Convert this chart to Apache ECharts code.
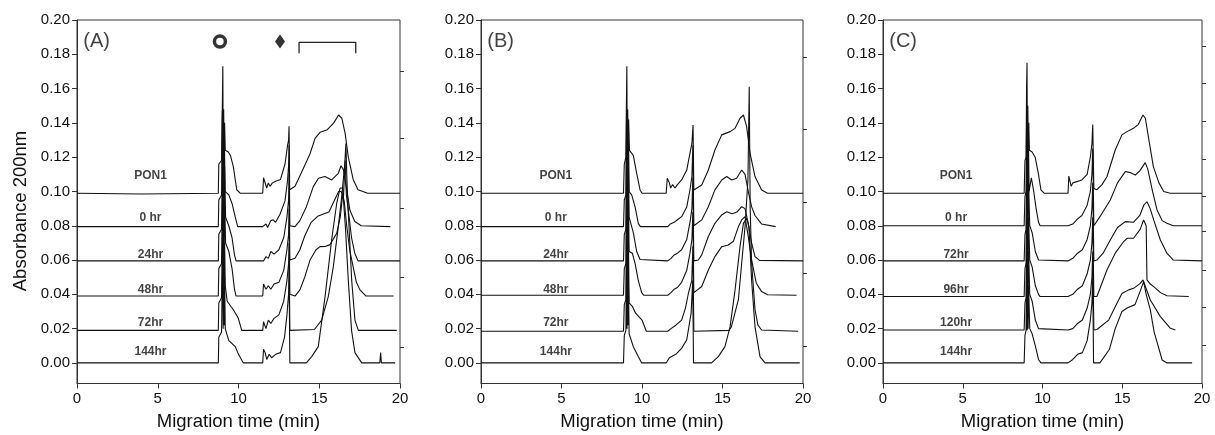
<!DOCTYPE html>
<html>
<head>
<meta charset="UTF-8">
<title>PON1 electropherograms</title>
<style>
  html, body { margin: 0; padding: 0; background: #fff; }
  #chart { width: 1215px; height: 435px; }
</style>
<script src="https://cdn.jsdelivr.net/npm/echarts@6/dist/echarts.min.js"></script>
</head>
<body>
<div id="chart"></div>
<script>
// traces: [migration time (min), absorbance], already stacked
var namesAB = ['PON1', '0 hr', '24hr', '48hr', '72hr', '144hr'];
var namesC = ['PON1', '0 hr', '72hr', '96hr', '120hr', '144hr'];
var panelLetters = ['(A)', '(B)', '(C)'];
var labelAbs = [0.109, 0.0845, 0.063, 0.043, 0.0235, 0.0066];
var yTicks = [0, 0.02, 0.04, 0.06, 0.08, 0.10, 0.12, 0.14, 0.16, 0.18, 0.20];
var rightTicksA = [0.0093, 0.050, 0.0904, 0.131, 0.170];
var rightTicksB = [0.0099, 0.0525, 0.094, 0.136, 0.178];
var rightTicksC = [0.0105, 0.0325, 0.0542, 0.0766, 0.0974, 0.1188, 0.1407, 0.1631, 0.1844];

// panel A annotations
var circleMark = [[8.85, 0.1874]];
var diamondMark = [[12.57, 0.1874]];
var bracketMark = [[13.75, 0.1806], [13.75, 0.187], [17.26, 0.187], [17.26, 0.1806]];

// ---- panel A ----
var a_pon1 = [[0,0.099],[4,0.0985],[8.75,0.099],[8.78,0.116],[8.95,0.118],[9.0,0.15],[9.03,0.173],[9.05,0.125],[9.08,0.148],[9.11,0.127],[9.14,0.14],[9.18,0.124],[9.37,0.123],[9.5,0.121],[9.68,0.1145],[9.89,0.101],[10.1,0.099],[11.5,0.099],[11.55,0.108],[11.65,0.107],[11.75,0.102],[11.85,0.105],[11.95,0.103],[12.1,0.105],[12.3,0.106],[12.6,0.107],[12.88,0.116],[13.04,0.127],[13.1,0.130],[13.13,0.138],[13.17,0.101],[13.5,0.103],[13.9,0.111],[14.43,0.122],[14.74,0.131],[15.05,0.1345],[15.5,0.136],[15.9,0.14],[16.2,0.1446],[16.4,0.1427],[16.6,0.134],[16.8,0.12],[17.1,0.107],[17.4,0.101],[18,0.099],[20,0.099]];
var a_0hr = [[0,0.0795],[8.75,0.0795],[8.78,0.095],[8.95,0.098],[9.0,0.147],[9.03,0.1],[9.06,0.142],[9.09,0.102],[9.12,0.135],[9.17,0.1],[9.4,0.098],[9.6,0.093],[9.8,0.085],[9.95,0.0795],[11.5,0.0795],[11.7,0.081],[11.8,0.079],[12.0,0.083],[12.15,0.0835],[12.3,0.082],[12.57,0.0867],[12.88,0.0945],[13.04,0.1067],[13.1,0.115],[13.13,0.127],[13.18,0.08],[13.5,0.0795],[13.8,0.083],[14.2,0.091],[14.63,0.1028],[14.95,0.1077],[15.35,0.1087],[15.77,0.1067],[16.18,0.1106],[16.35,0.115],[16.5,0.1126],[16.7,0.101],[16.9,0.089],[17.2,0.0825],[17.6,0.08],[19.4,0.0795]];
var a_24hr = [[0,0.0595],[8.75,0.0595],[8.78,0.075],[8.95,0.078],[9.02,0.125],[9.05,0.08],[9.08,0.122],[9.11,0.082],[9.14,0.115],[9.2,0.085],[9.4,0.08],[9.6,0.073],[9.75,0.063],[9.85,0.0595],[11.55,0.0595],[11.7,0.062],[11.85,0.061],[12.0,0.065],[12.2,0.0635],[12.5,0.066],[12.8,0.073],[13.0,0.085],[13.1,0.095],[13.13,0.11],[13.18,0.06],[13.5,0.061],[13.8,0.066],[14.1,0.074],[14.5,0.082],[14.9,0.0855],[15.3,0.087],[15.6,0.088],[15.9,0.094],[16.2,0.1],[16.35,0.1],[16.5,0.097],[16.6,0.118],[16.68,0.098],[16.85,0.085],[17.0,0.073],[17.2,0.064],[17.4,0.0595],[20,0.0595]];
var a_48hr = [[0,0.039],[8.75,0.039],[8.78,0.055],[8.95,0.058],[9.02,0.105],[9.05,0.06],[9.08,0.1],[9.11,0.062],[9.14,0.095],[9.2,0.07],[9.4,0.065],[9.6,0.055],[9.75,0.043],[9.85,0.039],[11.5,0.039],[11.55,0.046],[11.7,0.043],[11.85,0.045],[12.0,0.043],[12.2,0.046],[12.5,0.047],[12.8,0.054],[13.0,0.066],[13.1,0.075],[13.13,0.09],[13.18,0.04],[13.5,0.039],[13.8,0.0426],[14.1,0.05],[14.43,0.06],[14.8,0.066],[15.05,0.0678],[15.4,0.068],[15.67,0.069],[16.08,0.0756],[16.3,0.085],[16.45,0.098],[16.55,0.094],[16.7,0.08],[16.9,0.065],[17.1,0.056],[17.3,0.047],[17.52,0.0426],[17.9,0.039],[19.6,0.039]];
var a_72hr = [[0,0.019],[8.75,0.019],[8.78,0.035],[8.95,0.038],[9.02,0.085],[9.05,0.04],[9.08,0.08],[9.11,0.045],[9.14,0.07],[9.18,0.045],[9.3,0.036],[9.68,0.031],[9.99,0.026],[10.2,0.019],[11.5,0.019],[11.55,0.024],[11.7,0.02],[11.85,0.025],[12.0,0.023],[12.2,0.026],[12.5,0.028],[12.8,0.036],[13.0,0.048],[13.1,0.058],[13.13,0.07],[13.18,0.019],[14.7,0.0195],[15.15,0.025],[15.56,0.0387],[15.87,0.056],[16.18,0.0795],[16.39,0.097],[16.58,0.116],[16.65,0.128],[16.72,0.105],[16.8,0.0873],[17.01,0.048],[17.21,0.025],[17.42,0.019],[19.8,0.019]];
var a_144hr = [[0,0.0],[8.75,0.0],[8.78,0.015],[8.95,0.018],[9.02,0.065],[9.05,0.02],[9.08,0.06],[9.11,0.022],[9.14,0.05],[9.18,0.02],[9.4,0.013],[9.8,0.0095],[10.0,0.005],[10.3,0.0],[11.5,0.0],[11.55,0.008],[11.65,0.006],[11.75,0.002],[11.9,0.005],[12.05,0.003],[12.3,0.005],[12.6,0.006],[12.85,0.015],[13.0,0.028],[13.1,0.04],[13.13,0.055],[13.18,0.0],[14.2,0.0],[14.53,0.0037],[14.94,0.0095],[15.36,0.0387],[15.77,0.072],[16.08,0.093],[16.29,0.102],[16.45,0.102],[16.63,0.0776],[16.8,0.048],[17.0,0.019],[17.21,0.006],[17.63,0.0],[18.75,0.0],[18.8,0.006],[18.85,0.0],[19.7,0.0]];

// ---- panel B ----
var b_pon1 = [[0,0.099],[8.85,0.099],[8.9,0.116],[9.0,0.12],[9.03,0.15],[9.06,0.173],[9.08,0.128],[9.11,0.148],[9.14,0.13],[9.17,0.142],[9.22,0.124],[9.46,0.121],[9.67,0.1106],[9.88,0.1009],[10.0,0.099],[11.5,0.099],[11.57,0.1077],[11.7,0.105],[11.78,0.102],[11.9,0.104],[12.05,0.102],[12.2,0.104],[12.46,0.1067],[12.78,0.1125],[12.98,0.1223],[13.1,0.128],[13.17,0.1388],[13.22,0.1009],[13.71,0.1038],[14.12,0.1125],[14.53,0.1242],[14.95,0.133],[15.47,0.1349],[15.78,0.1368],[16.09,0.1427],[16.3,0.1446],[16.5,0.1378],[16.71,0.1223],[17.02,0.1087],[17.43,0.1009],[17.8,0.099],[20,0.099]];
var b_0hr = [[0,0.0795],[8.85,0.0795],[8.9,0.095],[9.0,0.098],[9.04,0.147],[9.07,0.1],[9.1,0.143],[9.13,0.102],[9.16,0.135],[9.2,0.1],[9.36,0.098],[9.57,0.091],[9.77,0.0814],[9.9,0.0795],[11.6,0.0795],[11.75,0.081],[12.0,0.082],[12.2,0.0835],[12.46,0.0853],[12.78,0.091],[12.98,0.101],[13.1,0.1087],[13.16,0.127],[13.22,0.08],[13.71,0.0834],[14.12,0.0911],[14.53,0.1009],[14.95,0.1067],[15.26,0.1087],[15.57,0.1067],[15.88,0.1077],[16.19,0.1125],[16.4,0.11],[16.6,0.1],[16.81,0.091],[17.02,0.086],[17.43,0.081],[18.3,0.0795]];
var b_24hr = [[0,0.0595],[8.85,0.0595],[8.9,0.075],[9.0,0.078],[9.04,0.125],[9.07,0.08],[9.1,0.122],[9.13,0.082],[9.16,0.115],[9.2,0.085],[9.46,0.076],[9.67,0.065],[9.88,0.0603],[10.0,0.0595],[11.6,0.0595],[11.8,0.061],[12.0,0.063],[12.2,0.064],[12.46,0.066],[12.78,0.072],[12.98,0.082],[13.1,0.09],[13.16,0.108],[13.22,0.0595],[13.5,0.06],[13.71,0.063],[14.12,0.0737],[14.53,0.0814],[14.95,0.0863],[15.26,0.0882],[15.6,0.087],[15.9,0.088],[16.19,0.0911],[16.4,0.09],[16.6,0.0814],[16.81,0.0698],[17.02,0.062],[17.3,0.0598],[20,0.0595]];
var b_48hr = [[0,0.0395],[8.85,0.0395],[8.9,0.055],[9.0,0.058],[9.04,0.105],[9.07,0.06],[9.1,0.1],[9.13,0.062],[9.16,0.095],[9.2,0.065],[9.4,0.064],[9.57,0.058],[9.77,0.048],[9.98,0.041],[10.1,0.0395],[11.6,0.0395],[11.8,0.041],[12.0,0.043],[12.2,0.044],[12.46,0.047],[12.78,0.054],[12.98,0.064],[13.1,0.072],[13.16,0.088],[13.22,0.041],[13.71,0.0446],[14.12,0.0542],[14.53,0.062],[14.95,0.0678],[15.36,0.0688],[15.68,0.071],[15.99,0.0795],[16.19,0.0834],[16.4,0.0853],[16.6,0.0737],[16.81,0.06],[17.1,0.0465],[17.43,0.0416],[17.8,0.0398],[19.6,0.0395]];
var b_72hr = [[0,0.0185],[8.85,0.0185],[8.9,0.034],[9.0,0.037],[9.04,0.085],[9.07,0.04],[9.1,0.08],[9.13,0.042],[9.16,0.07],[9.2,0.035],[9.4,0.033],[9.6,0.029],[9.8,0.027],[10.0,0.025],[10.27,0.0185],[11.6,0.0185],[11.8,0.02],[12.1,0.022],[12.46,0.025],[12.7,0.032],[12.88,0.0405],[13.09,0.048],[13.16,0.068],[13.22,0.0185],[15.4,0.019],[15.55,0.021],[15.99,0.037],[16.19,0.058],[16.4,0.0795],[16.58,0.1067],[16.66,0.161],[16.72,0.09],[16.81,0.058],[17.02,0.031],[17.2,0.022],[17.43,0.0192],[19.7,0.0185]];
var b_144hr = [[0,0.0],[8.85,0.0],[8.9,0.016],[9.0,0.019],[9.04,0.06],[9.07,0.02],[9.1,0.055],[9.13,0.022],[9.16,0.045],[9.2,0.017],[9.46,0.0095],[9.77,0.0037],[9.98,0.0],[11.5,0.0],[11.7,0.003],[11.9,0.004],[12.1,0.005],[12.46,0.0085],[12.78,0.0135],[13.05,0.029],[13.15,0.048],[13.2,0.0],[14.32,0.0],[14.74,0.0037],[15.15,0.0095],[15.47,0.021],[15.78,0.0426],[16.09,0.068],[16.3,0.0814],[16.5,0.0843],[16.64,0.0795],[16.81,0.048],[17.02,0.021],[17.33,0.0037],[17.64,0.0],[19.8,0.0]];

// ---- panel C ----
var c_pon1 = [[0,0.099],[8.85,0.099],[8.9,0.118],[8.97,0.12],[9.0,0.16],[9.03,0.175],[9.05,0.13],[9.08,0.15],[9.11,0.128],[9.14,0.14],[9.18,0.124],[9.35,0.123],[9.54,0.12],[9.75,0.11],[9.9,0.1009],[10.1,0.099],[11.6,0.099],[11.65,0.109],[11.8,0.103],[11.9,0.105],[12.0,0.104],[12.47,0.1067],[12.8,0.11],[13.0,0.12],[13.1,0.128],[13.15,0.139],[13.22,0.1017],[13.4,0.101],[13.73,0.104],[14.04,0.1086],[14.56,0.1242],[14.98,0.133],[15.3,0.1349],[15.7,0.1368],[16.0,0.139],[16.3,0.1446],[16.45,0.1427],[16.6,0.134],[16.95,0.1145],[17.3,0.105],[17.6,0.1],[18.0,0.099],[20,0.099]];
var c_0hr = [[0,0.08],[8.85,0.08],[8.9,0.097],[8.97,0.1],[9.0,0.14],[9.03,0.098],[9.06,0.137],[9.09,0.1],[9.12,0.13],[9.16,0.1],[9.3,0.108],[9.45,0.1],[9.6,0.09],[9.75,0.082],[9.85,0.08],[11.6,0.08],[11.9,0.081],[12.2,0.084],[12.47,0.086],[12.8,0.092],[13.0,0.1],[13.1,0.11],[13.15,0.125],[13.22,0.08],[13.6,0.0853],[14.25,0.095],[14.7,0.105],[15.19,0.1116],[15.5,0.111],[15.82,0.1096],[16.1,0.112],[16.44,0.1168],[16.6,0.113],[16.9,0.1],[17.18,0.0892],[17.5,0.083],[17.8,0.0815],[18.2,0.08],[20,0.08]];
var c_72hr = [[0,0.0595],[8.85,0.0595],[8.9,0.075],[8.97,0.078],[9.01,0.12],[9.04,0.078],[9.07,0.115],[9.1,0.08],[9.13,0.105],[9.2,0.08],[9.35,0.076],[9.55,0.065],[9.75,0.06],[11.6,0.0595],[11.9,0.061],[12.2,0.064],[12.5,0.066],[12.8,0.072],[13.0,0.08],[13.1,0.09],[13.15,0.105],[13.22,0.0595],[13.41,0.06],[13.8,0.064],[14.25,0.0717],[14.7,0.079],[15.19,0.0824],[15.7,0.082],[16.1,0.086],[16.35,0.092],[16.55,0.094],[16.75,0.09],[16.97,0.0834],[17.39,0.0717],[17.8,0.064],[18.2,0.06],[20,0.0595]];
var c_96hr = [[0,0.0387],[8.85,0.0387],[8.9,0.055],[8.97,0.058],[9.01,0.1],[9.04,0.058],[9.07,0.095],[9.1,0.06],[9.13,0.085],[9.2,0.06],[9.35,0.056],[9.55,0.045],[9.75,0.04],[9.85,0.0387],[11.6,0.0387],[11.9,0.04],[12.2,0.043],[12.5,0.045],[12.8,0.052],[13.0,0.06],[13.1,0.07],[13.15,0.085],[13.22,0.0387],[13.41,0.0387],[14.04,0.0542],[14.56,0.064],[15.09,0.0708],[15.3,0.0727],[15.71,0.0727],[16.13,0.078],[16.34,0.0834],[16.5,0.08],[16.55,0.0484],[16.76,0.046],[16.97,0.0445],[17.4,0.041],[17.8,0.0392],[19.17,0.0387]];
var c_120hr = [[0,0.0192],[8.85,0.0192],[8.9,0.035],[8.97,0.038],[9.01,0.08],[9.04,0.038],[9.07,0.075],[9.1,0.04],[9.13,0.065],[9.2,0.04],[9.35,0.036],[9.55,0.025],[9.75,0.02],[9.85,0.0192],[11.6,0.0192],[11.9,0.02],[12.2,0.023],[12.5,0.025],[12.8,0.032],[13.0,0.04],[13.1,0.05],[13.15,0.065],[13.22,0.0192],[13.41,0.0195],[14.15,0.025],[14.56,0.0327],[14.98,0.0405],[15.4,0.0426],[15.71,0.0435],[16.13,0.0464],[16.3,0.0484],[16.76,0.0367],[17.39,0.027],[18.02,0.0202],[18.33,0.0192]];
var c_144hr = [[0,0.0],[8.85,0.0],[8.9,0.016],[8.97,0.019],[9.01,0.06],[9.04,0.019],[9.07,0.055],[9.1,0.02],[9.13,0.045],[9.2,0.02],[9.35,0.017],[9.55,0.01],[9.75,0.002],[9.9,0.0],[11.6,0.0],[11.9,0.002],[12.2,0.005],[12.5,0.006],[12.8,0.013],[13.0,0.025],[13.1,0.035],[13.15,0.05],[13.2,0.0],[13.6,0.0],[14.2,0.008],[14.56,0.02],[14.98,0.03],[15.3,0.032],[15.8,0.034],[16.13,0.042],[16.34,0.0474],[16.5,0.04],[16.76,0.0309],[17.0,0.018],[17.2,0.0115],[17.5,0.0017],[17.81,0.0],[19.38,0.0]];

var FONT = '"Liberation Sans", Arial, sans-serif';
var INK = '#111';

var panels = [
  { left: 77, width: 323, names: namesAB, labelT: 4.55, rightTicks: rightTicksA,
    traces: [a_pon1, a_0hr, a_24hr, a_48hr, a_72hr, a_144hr] },
  { left: 481, width: 322, names: namesAB, labelT: 4.65, rightTicks: rightTicksB,
    traces: [b_pon1, b_0hr, b_24hr, b_48hr, b_72hr, b_144hr] },
  { left: 883, width: 319, names: namesC, labelT: 4.58, rightTicks: rightTicksC,
    traces: [c_pon1, c_0hr, c_72hr, c_96hr, c_120hr, c_144hr] }
];

var grids = [], xAxes = [], yAxes = [], series = [];

panels.forEach(function (p, i) {
  grids.push({
    left: p.left, top: 20, width: p.width, height: 363.5,
    show: true, borderColor: '#333', borderWidth: 1, backgroundColor: 'transparent',
    containLabel: false, outerBoundsMode: 'none'
  });
  xAxes.push({
    type: 'value', gridIndex: i, min: 0, max: 20, interval: 5,
    name: 'Migration time (min)', nameLocation: 'middle', nameGap: 29,
    nameTextStyle: { fontSize: 18.5, color: INK, fontFamily: FONT },
    axisLine: { show: true, onZero: false, lineStyle: { color: '#333', width: 1 } },
    axisTick: { show: true, length: 5, lineStyle: { color: '#333' } },
    axisLabel: { fontSize: 15, color: INK, fontFamily: FONT, margin: 8 },
    splitLine: { show: false }
  });
  yAxes.push({
    type: 'value', gridIndex: i, min: -0.012, max: 0.2,
    axisLine: { show: true, onZero: false, lineStyle: { color: '#333', width: 1 } },
    axisTick: { show: true, length: 5, customValues: yTicks, lineStyle: { color: '#333' } },
    axisLabel: {
      fontSize: 15, color: INK, fontFamily: FONT, margin: 7, customValues: yTicks,
      formatter: function (v) { return v.toFixed(2); }
    },
    splitLine: { show: false }
  });
  // unlabelled ticks on the right-hand frame
  yAxes.push({
    type: 'value', gridIndex: i, min: -0.012, max: 0.2, position: 'right',
    axisLine: { show: false, onZero: false },
    axisTick: { show: true, length: 4, customValues: p.rightTicks, lineStyle: { color: '#333' } },
    axisLabel: { show: false, customValues: p.rightTicks },
    splitLine: { show: false }
  });
  var yIdx = i * 2;

  p.traces.forEach(function (tr, k) {
    series.push({
      name: p.names[k], type: 'line', xAxisIndex: i, yAxisIndex: yIdx,
      data: tr, showSymbol: false, symbol: 'none', silent: true,
      lineStyle: { color: INK, width: 1.1 }
    });
  });

  // trace names, written just above each baseline
  series.push({
    type: 'scatter', xAxisIndex: i, yAxisIndex: yIdx, symbolSize: 1, silent: true,
    itemStyle: { color: 'rgba(0,0,0,0)' },
    data: p.names.map(function (n, k) { return [p.labelT, labelAbs[k], n]; }),
    label: {
      show: true, position: 'inside', fontSize: 12, fontWeight: 'bold', color: INK, fontFamily: FONT,
      formatter: function (d) { return d.data[2]; }
    }
  });

  // panel letter
  series.push({
    type: 'scatter', xAxisIndex: i, yAxisIndex: yIdx, symbolSize: 1, silent: true,
    itemStyle: { color: 'rgba(0,0,0,0)' },
    data: [[0.36, 0.1872, panelLetters[i]]],
    label: {
      show: true, position: 'right', distance: 0, fontSize: 20, color: INK, fontFamily: FONT,
      formatter: function (d) { return d.data[2]; }
    }
  });
});

// panel A peak markers
series.push({
  type: 'scatter', xAxisIndex: 0, yAxisIndex: 0, symbol: 'circle', symbolSize: 11, silent: true,
  itemStyle: { color: '#fff', borderColor: '#000', borderWidth: 3.5 },
  data: circleMark
});
series.push({
  type: 'scatter', xAxisIndex: 0, yAxisIndex: 0, symbol: 'diamond', symbolSize: [10, 14], silent: true,
  itemStyle: { color: '#000' },
  data: diamondMark
});
series.push({
  type: 'line', xAxisIndex: 0, yAxisIndex: 0, showSymbol: false, symbol: 'none', silent: true,
  lineStyle: { color: '#222', width: 1.3 },
  data: bracketMark
});

var chart = echarts.init(document.getElementById('chart'));
chart.setOption({
  animation: false,
  backgroundColor: '#fff',
  grid: grids,
  xAxis: xAxes,
  yAxis: yAxes,
  series: series,
  graphic: [{
    type: 'text', x: 21, y: 211, rotation: Math.PI / 2,
    style: {
      text: 'Absorbance 200nm', fill: INK, font: '18.5px ' + FONT,
      textAlign: 'center', textVerticalAlign: 'middle'
    }
  }]
});
</script>
</body>
</html>
